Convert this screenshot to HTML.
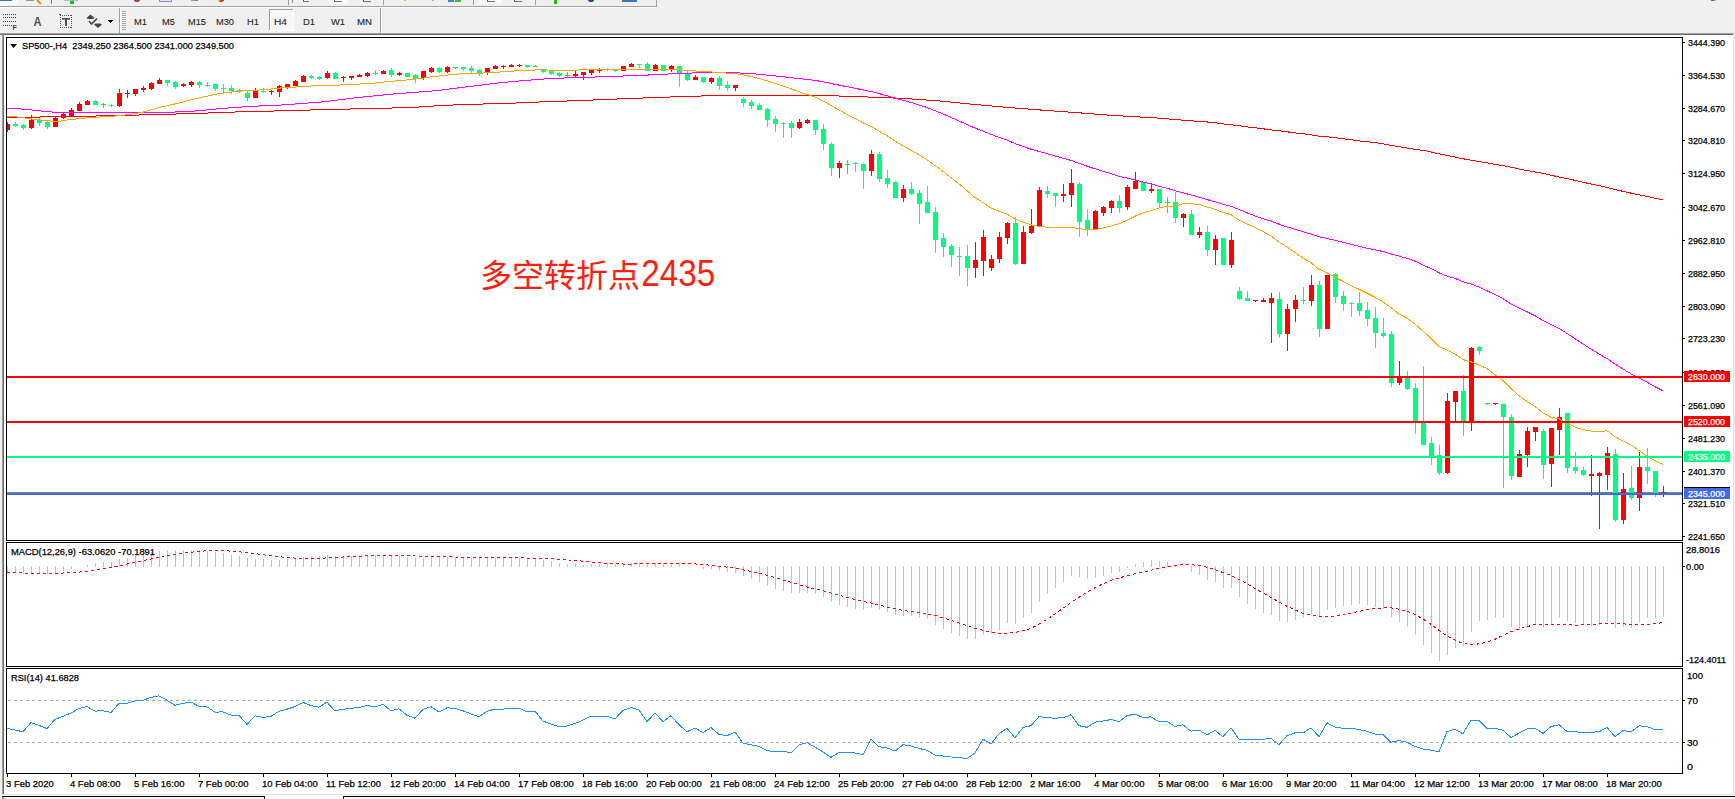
<!DOCTYPE html>
<html><head><meta charset="utf-8"><title>SP500 H4</title>
<style>html,body{margin:0;padding:0;background:#f0f0f0;}body{width:1735px;height:799px;overflow:hidden;}svg{display:block;}</style>
</head><body>
<svg width="1735" height="799" viewBox="0 0 1735 799" shape-rendering="crispEdges" font-family="Liberation Sans, Arial, sans-serif">
<rect x="0" y="0" width="1735" height="799" fill="#f0f0f0"/>
<rect x="0" y="0" width="18" height="5" fill="#fbfbfb"/>
<rect x="0" y="0" width="12" height="1" fill="#3a72c4"/>
<path d="M37 0 L41 4" stroke="#c89b1c" stroke-width="2" fill="none" shape-rendering="auto"/>
<path d="M26 0 L34 0" stroke="#9a9a9a" stroke-width="1" fill="none"/>
<rect x="51" y="0" width="1" height="4" fill="#808080"/>
<rect x="70" y="0" width="4" height="4" fill="#11c211"/>
<rect x="64" y="0" width="14" height="1" fill="#b8b8b8"/>
<circle cx="137" cy="-1" r="3" fill="#a0522d"/>
<rect x="159" y="0" width="13" height="2" fill="#7f8fcf"/>
<rect x="160" y="0" width="11" height="1" fill="#dfe5f5"/>
<rect x="191" y="0" width="4" height="1" fill="#6aa0e0"/>
<rect x="195" y="0" width="3" height="1" fill="#2fb12f"/>
<circle cx="221" cy="-1" r="3" fill="#e03a2a"/>
<rect x="218" y="0" width="2" height="1" fill="#f0c020"/>
<rect x="288" y="0" width="1" height="5" fill="#a0a0a0"/>
<rect x="292" y="0" width="1" height="3" fill="#909090"/>
<rect x="303" y="0" width="1" height="2" fill="#505050"/>
<rect x="303" y="1" width="6" height="1" fill="#707070"/>
<rect x="329" y="0" width="19" height="4" fill="#fafafa"/>
<rect x="334" y="0" width="1" height="2" fill="#505050"/>
<rect x="334" y="1" width="8" height="1" fill="#707070"/>
<rect x="363" y="0" width="1" height="2" fill="#505050"/>
<rect x="363" y="1" width="8" height="1" fill="#707070"/>
<rect x="383" y="0" width="1" height="5" fill="#a0a0a0"/>
<circle cx="405" cy="-1" r="2" fill="#e8a800"/>
<circle cx="433" cy="-1" r="2" fill="#e8a800"/>
<rect x="448" y="0" width="6" height="2" fill="#4a7fd8"/>
<rect x="455" y="0" width="6" height="2" fill="#3cb83c"/>
<rect x="473" y="0" width="1" height="5" fill="#a0a0a0"/>
<rect x="478" y="0" width="24" height="4" fill="#fafafa"/>
<rect x="487" y="0" width="1" height="2" fill="#505050"/>
<rect x="487" y="1" width="8" height="1" fill="#707070"/>
<rect x="514" y="0" width="1" height="2" fill="#505050"/>
<rect x="514" y="1" width="8" height="1" fill="#707070"/>
<rect x="535" y="0" width="1" height="5" fill="#a0a0a0"/>
<rect x="554" y="0" width="3" height="4" fill="#11c211"/>
<circle cx="591" cy="-2" r="4" fill="#1f4fa0"/>
<rect x="622" y="0" width="15" height="2" fill="#3a72c4"/>
<rect x="656" y="0" width="1" height="6" fill="#a0a0a0"/>
<rect x="1711" y="0" width="3" height="1" fill="#6a6a6a"/>
<rect x="1714" y="0" width="2" height="1" fill="#b0b0b0"/>
<rect x="0" y="6" width="657" height="1" fill="#a0a0a0"/>
<rect x="0" y="7" width="657" height="1" fill="#ffffff"/>
<rect x="3" y="14" width="1" height="1" fill="#404040"/>
<rect x="5" y="14" width="1" height="1" fill="#404040"/>
<rect x="7" y="14" width="1" height="1" fill="#404040"/>
<rect x="9" y="14" width="1" height="1" fill="#404040"/>
<rect x="11" y="14" width="1" height="1" fill="#404040"/>
<rect x="13" y="14" width="1" height="1" fill="#404040"/>
<rect x="15" y="14" width="1" height="1" fill="#404040"/>
<rect x="3" y="17" width="1" height="1" fill="#404040"/>
<rect x="5" y="17" width="1" height="1" fill="#404040"/>
<rect x="7" y="17" width="1" height="1" fill="#404040"/>
<rect x="9" y="17" width="1" height="1" fill="#404040"/>
<rect x="11" y="17" width="1" height="1" fill="#404040"/>
<rect x="13" y="17" width="1" height="1" fill="#404040"/>
<rect x="15" y="17" width="1" height="1" fill="#404040"/>
<rect x="3" y="21" width="1" height="1" fill="#404040"/>
<rect x="5" y="21" width="1" height="1" fill="#404040"/>
<rect x="7" y="21" width="1" height="1" fill="#404040"/>
<rect x="9" y="21" width="1" height="1" fill="#404040"/>
<rect x="11" y="21" width="1" height="1" fill="#404040"/>
<rect x="13" y="21" width="1" height="1" fill="#404040"/>
<rect x="15" y="21" width="1" height="1" fill="#404040"/>
<rect x="3" y="25" width="1" height="1" fill="#404040"/>
<rect x="5" y="25" width="1" height="1" fill="#404040"/>
<rect x="7" y="25" width="1" height="1" fill="#404040"/>
<rect x="9" y="25" width="1" height="1" fill="#404040"/>
<rect x="11" y="25" width="1" height="1" fill="#404040"/>
<text x="12.6" y="30" font-size="7" fill="#404040" stroke="#404040" stroke-width="0" textLength="4.3" lengthAdjust="spacingAndGlyphs" font-weight="bold">F</text>
<text x="33.5" y="26" font-size="12" fill="#505050" stroke="#505050" stroke-width="0" textLength="8.0" lengthAdjust="spacingAndGlyphs" font-weight="bold">A</text>
<rect x="60" y="15" width="1" height="1" fill="#505050"/>
<rect x="60" y="27" width="1" height="1" fill="#505050"/>
<rect x="62" y="15" width="1" height="1" fill="#505050"/>
<rect x="62" y="27" width="1" height="1" fill="#505050"/>
<rect x="64" y="15" width="1" height="1" fill="#505050"/>
<rect x="64" y="27" width="1" height="1" fill="#505050"/>
<rect x="66" y="15" width="1" height="1" fill="#505050"/>
<rect x="66" y="27" width="1" height="1" fill="#505050"/>
<rect x="68" y="15" width="1" height="1" fill="#505050"/>
<rect x="68" y="27" width="1" height="1" fill="#505050"/>
<rect x="70" y="15" width="1" height="1" fill="#505050"/>
<rect x="70" y="27" width="1" height="1" fill="#505050"/>
<rect x="60" y="15" width="1" height="1" fill="#505050"/>
<rect x="71" y="15" width="1" height="1" fill="#505050"/>
<rect x="60" y="17" width="1" height="1" fill="#505050"/>
<rect x="71" y="17" width="1" height="1" fill="#505050"/>
<rect x="60" y="19" width="1" height="1" fill="#505050"/>
<rect x="71" y="19" width="1" height="1" fill="#505050"/>
<rect x="60" y="21" width="1" height="1" fill="#505050"/>
<rect x="71" y="21" width="1" height="1" fill="#505050"/>
<rect x="60" y="23" width="1" height="1" fill="#505050"/>
<rect x="71" y="23" width="1" height="1" fill="#505050"/>
<rect x="60" y="25" width="1" height="1" fill="#505050"/>
<rect x="71" y="25" width="1" height="1" fill="#505050"/>
<rect x="60" y="27" width="1" height="1" fill="#505050"/>
<rect x="71" y="27" width="1" height="1" fill="#505050"/>
<rect x="59" y="14" width="2" height="1" fill="#505050"/>
<rect x="62" y="18" width="8" height="1" fill="#505050"/>
<rect x="62" y="19" width="8" height="1" fill="#8a8a8a"/>
<rect x="65" y="18" width="2" height="8" fill="#505050"/>
<path d="M90.5 14.5 L94.5 18 L93 19 L88 19 L86.5 18 Z M98 28 L102 24.5 L100.5 23.5 L95.5 23.5 L94 24.5 Z" fill="#444" shape-rendering="auto"/>
<path d="M89 21 L91.5 24 L97 18.5" stroke="#444" stroke-width="1.6" fill="none" shape-rendering="auto"/>
<path d="M107 20 L113 20 L110 23 Z" fill="#000"/>
<rect x="119" y="8" width="1" height="25" fill="#a0a0a0"/>
<rect x="120" y="8" width="1" height="25" fill="#ffffff"/>
<rect x="122" y="11" width="4" height="1" fill="#a8a8a8"/>
<rect x="122" y="13" width="4" height="1" fill="#a8a8a8"/>
<rect x="122" y="15" width="4" height="1" fill="#a8a8a8"/>
<rect x="122" y="17" width="4" height="1" fill="#a8a8a8"/>
<rect x="122" y="19" width="4" height="1" fill="#a8a8a8"/>
<rect x="122" y="21" width="4" height="1" fill="#a8a8a8"/>
<rect x="122" y="23" width="4" height="1" fill="#a8a8a8"/>
<rect x="122" y="25" width="4" height="1" fill="#a8a8a8"/>
<rect x="122" y="27" width="4" height="1" fill="#a8a8a8"/>
<rect x="122" y="29" width="4" height="1" fill="#a8a8a8"/>
<rect x="269" y="9" width="25" height="22" fill="#f7f7f7"/>
<rect x="269" y="9" width="25" height="1" fill="#a0a0a0"/>
<rect x="269" y="9" width="1" height="22" fill="#a0a0a0"/>
<rect x="269" y="30" width="25" height="1" fill="#ffffff"/>
<rect x="293" y="9" width="1" height="22" fill="#ffffff"/>
<text x="134.0" y="25" font-size="9.4" fill="#222" stroke="#222" stroke-width="0.1" textLength="13.0" lengthAdjust="spacingAndGlyphs">M1</text>
<text x="162.0" y="25" font-size="9.4" fill="#222" stroke="#222" stroke-width="0.1" textLength="13.0" lengthAdjust="spacingAndGlyphs">M5</text>
<text x="188.0" y="25" font-size="9.4" fill="#222" stroke="#222" stroke-width="0.1" textLength="18.0" lengthAdjust="spacingAndGlyphs">M15</text>
<text x="216.0" y="25" font-size="9.4" fill="#222" stroke="#222" stroke-width="0.1" textLength="18.0" lengthAdjust="spacingAndGlyphs">M30</text>
<text x="247.0" y="25" font-size="9.4" fill="#222" stroke="#222" stroke-width="0.1" textLength="12.0" lengthAdjust="spacingAndGlyphs">H1</text>
<text x="274.0" y="25" font-size="9.4" fill="#222" stroke="#222" stroke-width="0.1" textLength="13.0" lengthAdjust="spacingAndGlyphs">H4</text>
<text x="303.0" y="25" font-size="9.4" fill="#222" stroke="#222" stroke-width="0.1" textLength="12.0" lengthAdjust="spacingAndGlyphs">D1</text>
<text x="331.0" y="25" font-size="9.4" fill="#222" stroke="#222" stroke-width="0.1" textLength="14.0" lengthAdjust="spacingAndGlyphs">W1</text>
<text x="357.0" y="25" font-size="9.4" fill="#222" stroke="#222" stroke-width="0.1" textLength="15.0" lengthAdjust="spacingAndGlyphs">MN</text>
<rect x="380" y="8" width="1" height="25" fill="#a0a0a0"/>
<rect x="381" y="8" width="1" height="25" fill="#ffffff"/>
<rect x="0" y="33" width="1734" height="1" fill="#a0a0a0"/>
<rect x="0" y="34" width="1734" height="1" fill="#696969"/>
<rect x="2" y="33" width="1" height="762" fill="#a0a0a0"/>
<rect x="3" y="34" width="1" height="760" fill="#696969"/>
<rect x="4" y="35" width="1729" height="759" fill="#ffffff"/>
<rect x="1733" y="34" width="1" height="761" fill="#e3e3e3"/>
<rect x="2" y="794" width="1732" height="1" fill="#e3e3e3"/>
<rect x="0" y="795" width="1735" height="4" fill="#ffffff"/>
<rect x="2" y="796" width="263" height="1" fill="#000000"/>
<rect x="264" y="796" width="1" height="3" fill="#000000"/>
<rect x="343" y="796" width="1392" height="1" fill="#000000"/>
<rect x="343" y="796" width="1" height="3" fill="#000000"/>
<rect x="2" y="797" width="2" height="2" fill="#a0a0a0"/>
<rect x="5" y="798" width="259" height="1" fill="#f0f0f0"/>
<rect x="345" y="798" width="1390" height="1" fill="#f0f0f0"/>
<rect x="6" y="37" width="1677" height="1" fill="#000"/>
<rect x="6" y="540" width="1677" height="1" fill="#000"/>
<rect x="6" y="37" width="1" height="504" fill="#000"/>
<rect x="1682" y="37" width="1" height="504" fill="#000"/>
<rect x="6" y="542" width="1677" height="1" fill="#000"/>
<rect x="6" y="666" width="1677" height="1" fill="#000"/>
<rect x="6" y="542" width="1" height="125" fill="#000"/>
<rect x="1682" y="542" width="1" height="125" fill="#000"/>
<rect x="6" y="668" width="1677" height="1" fill="#000"/>
<rect x="6" y="773" width="1677" height="1" fill="#000"/>
<rect x="6" y="668" width="1" height="106" fill="#000"/>
<rect x="1682" y="668" width="1" height="106" fill="#000"/>
<defs><clipPath id="cm"><rect x="7" y="38" width="1675" height="502"/></clipPath><clipPath id="cd"><rect x="7" y="543" width="1675" height="123"/></clipPath><clipPath id="cr"><rect x="7" y="669" width="1675" height="104"/></clipPath></defs>
<rect x="7" y="492" width="1675" height="1" fill="#7c8690"/>
<g clip-path="url(#cm)">
<rect x="7" y="122" width="1" height="10" fill="#ff0000"/>
<rect x="5" y="124" width="5" height="6" fill="#ff0000"/>
<rect x="15" y="122" width="1" height="5" fill="#00ff7f"/>
<rect x="13" y="124" width="5" height="2" fill="#00ff7f"/>
<rect x="23" y="124" width="1" height="6" fill="#00ff7f"/>
<rect x="21" y="125" width="5" height="3" fill="#00ff7f"/>
<rect x="31" y="115" width="1" height="14" fill="#ff0000"/>
<rect x="29" y="120" width="5" height="8" fill="#ff0000"/>
<rect x="39" y="118" width="1" height="8" fill="#00ff7f"/>
<rect x="37" y="120" width="5" height="3" fill="#00ff7f"/>
<rect x="47" y="121" width="1" height="8" fill="#00ff7f"/>
<rect x="45" y="122" width="5" height="5" fill="#00ff7f"/>
<rect x="55" y="116" width="1" height="11" fill="#ff0000"/>
<rect x="53" y="118" width="5" height="9" fill="#ff0000"/>
<rect x="63" y="113" width="1" height="6" fill="#ff0000"/>
<rect x="61" y="114" width="5" height="4" fill="#ff0000"/>
<rect x="71" y="108" width="1" height="8" fill="#ff0000"/>
<rect x="69" y="110" width="5" height="6" fill="#ff0000"/>
<rect x="79" y="102" width="1" height="9" fill="#ff0000"/>
<rect x="77" y="104" width="5" height="7" fill="#ff0000"/>
<rect x="87" y="100" width="1" height="5" fill="#ff0000"/>
<rect x="85" y="101" width="5" height="4" fill="#ff0000"/>
<rect x="95" y="100" width="1" height="5" fill="#00ff7f"/>
<rect x="93" y="101" width="5" height="4" fill="#00ff7f"/>
<rect x="103" y="103" width="1" height="5" fill="#00ff00"/>
<rect x="101" y="104" width="5" height="1" fill="#00ff00"/>
<rect x="111" y="104" width="1" height="3" fill="#00ff7f"/>
<rect x="109" y="105" width="5" height="1" fill="#00ff7f"/>
<rect x="119" y="89" width="1" height="18" fill="#ff0000"/>
<rect x="117" y="93" width="5" height="13" fill="#ff0000"/>
<rect x="127" y="90" width="1" height="8" fill="#ff0000"/>
<rect x="125" y="93" width="5" height="1" fill="#ff0000"/>
<rect x="135" y="89" width="1" height="7" fill="#ff0000"/>
<rect x="133" y="89" width="5" height="5" fill="#ff0000"/>
<rect x="143" y="86" width="1" height="6" fill="#ff0000"/>
<rect x="141" y="88" width="5" height="2" fill="#ff0000"/>
<rect x="151" y="82" width="1" height="8" fill="#ff0000"/>
<rect x="149" y="83" width="5" height="6" fill="#ff0000"/>
<rect x="159" y="78" width="1" height="6" fill="#ff0000"/>
<rect x="157" y="80" width="5" height="4" fill="#ff0000"/>
<rect x="167" y="80" width="1" height="6" fill="#00ff7f"/>
<rect x="165" y="80" width="5" height="3" fill="#00ff7f"/>
<rect x="175" y="81" width="1" height="8" fill="#00ff7f"/>
<rect x="173" y="82" width="5" height="5" fill="#00ff7f"/>
<rect x="183" y="83" width="1" height="4" fill="#ff0000"/>
<rect x="181" y="84" width="5" height="2" fill="#ff0000"/>
<rect x="191" y="81" width="1" height="6" fill="#ff0000"/>
<rect x="189" y="82" width="5" height="3" fill="#ff0000"/>
<rect x="199" y="81" width="1" height="7" fill="#00ff7f"/>
<rect x="197" y="82" width="5" height="3" fill="#00ff7f"/>
<rect x="207" y="82" width="1" height="5" fill="#00ff7f"/>
<rect x="205" y="85" width="5" height="1" fill="#00ff7f"/>
<rect x="215" y="84" width="1" height="7" fill="#00ff7f"/>
<rect x="213" y="84" width="5" height="5" fill="#00ff7f"/>
<rect x="223" y="84" width="1" height="9" fill="#00ff7f"/>
<rect x="221" y="88" width="5" height="1" fill="#00ff7f"/>
<rect x="231" y="85" width="1" height="9" fill="#00ff7f"/>
<rect x="229" y="88" width="5" height="3" fill="#00ff7f"/>
<rect x="239" y="89" width="1" height="4" fill="#00ff7f"/>
<rect x="237" y="90" width="5" height="1" fill="#00ff7f"/>
<rect x="247" y="91" width="1" height="10" fill="#00ff7f"/>
<rect x="245" y="93" width="5" height="5" fill="#00ff7f"/>
<rect x="255" y="88" width="1" height="10" fill="#ff0000"/>
<rect x="253" y="91" width="5" height="7" fill="#ff0000"/>
<rect x="263" y="88" width="1" height="5" fill="#00ff7f"/>
<rect x="261" y="91" width="5" height="1" fill="#00ff7f"/>
<rect x="271" y="90" width="1" height="5" fill="#ff0000"/>
<rect x="269" y="91" width="5" height="1" fill="#ff0000"/>
<rect x="279" y="85" width="1" height="12" fill="#ff0000"/>
<rect x="277" y="86" width="5" height="6" fill="#ff0000"/>
<rect x="287" y="84" width="1" height="5" fill="#ff0000"/>
<rect x="285" y="84" width="5" height="3" fill="#ff0000"/>
<rect x="295" y="80" width="1" height="6" fill="#ff0000"/>
<rect x="293" y="81" width="5" height="5" fill="#ff0000"/>
<rect x="303" y="75" width="1" height="7" fill="#ff0000"/>
<rect x="301" y="76" width="5" height="6" fill="#ff0000"/>
<rect x="311" y="75" width="1" height="4" fill="#00ff7f"/>
<rect x="309" y="76" width="5" height="2" fill="#00ff7f"/>
<rect x="319" y="76" width="1" height="4" fill="#00ff7f"/>
<rect x="317" y="77" width="5" height="2" fill="#00ff7f"/>
<rect x="327" y="71" width="1" height="8" fill="#ff0000"/>
<rect x="325" y="73" width="5" height="5" fill="#ff0000"/>
<rect x="335" y="72" width="1" height="7" fill="#00ff7f"/>
<rect x="333" y="73" width="5" height="6" fill="#00ff7f"/>
<rect x="343" y="76" width="1" height="6" fill="#ff0000"/>
<rect x="341" y="77" width="5" height="1" fill="#ff0000"/>
<rect x="351" y="76" width="1" height="4" fill="#ff0000"/>
<rect x="349" y="76" width="5" height="2" fill="#ff0000"/>
<rect x="359" y="74" width="1" height="3" fill="#ff0000"/>
<rect x="357" y="75" width="5" height="2" fill="#ff0000"/>
<rect x="367" y="72" width="1" height="5" fill="#ff0000"/>
<rect x="365" y="73" width="5" height="3" fill="#ff0000"/>
<rect x="375" y="70" width="1" height="5" fill="#00ff7f"/>
<rect x="373" y="73" width="5" height="1" fill="#00ff7f"/>
<rect x="383" y="70" width="1" height="4" fill="#ff0000"/>
<rect x="381" y="71" width="5" height="3" fill="#ff0000"/>
<rect x="391" y="68" width="1" height="9" fill="#00ff7f"/>
<rect x="389" y="70" width="5" height="5" fill="#00ff7f"/>
<rect x="399" y="72" width="1" height="4" fill="#ff0000"/>
<rect x="397" y="73" width="5" height="2" fill="#ff0000"/>
<rect x="407" y="73" width="1" height="4" fill="#00ff7f"/>
<rect x="405" y="73" width="5" height="4" fill="#00ff7f"/>
<rect x="415" y="74" width="1" height="9" fill="#00ff7f"/>
<rect x="413" y="75" width="5" height="4" fill="#00ff7f"/>
<rect x="423" y="71" width="1" height="9" fill="#ff0000"/>
<rect x="421" y="71" width="5" height="7" fill="#ff0000"/>
<rect x="431" y="67" width="1" height="6" fill="#ff0000"/>
<rect x="429" y="68" width="5" height="4" fill="#ff0000"/>
<rect x="439" y="67" width="1" height="6" fill="#00ff7f"/>
<rect x="437" y="68" width="5" height="4" fill="#00ff7f"/>
<rect x="447" y="66" width="1" height="7" fill="#ff0000"/>
<rect x="445" y="67" width="5" height="5" fill="#ff0000"/>
<rect x="455" y="67" width="1" height="2" fill="#00ff00"/>
<rect x="453" y="67" width="5" height="1" fill="#00ff00"/>
<rect x="463" y="67" width="1" height="4" fill="#00ff7f"/>
<rect x="461" y="67" width="5" height="2" fill="#00ff7f"/>
<rect x="471" y="66" width="1" height="7" fill="#00ff7f"/>
<rect x="469" y="68" width="5" height="3" fill="#00ff7f"/>
<rect x="479" y="69" width="1" height="7" fill="#00ff7f"/>
<rect x="477" y="70" width="5" height="3" fill="#00ff7f"/>
<rect x="487" y="68" width="1" height="7" fill="#ff0000"/>
<rect x="485" y="68" width="5" height="4" fill="#ff0000"/>
<rect x="495" y="65" width="1" height="4" fill="#ff0000"/>
<rect x="493" y="66" width="5" height="3" fill="#ff0000"/>
<rect x="503" y="65" width="1" height="4" fill="#ff0000"/>
<rect x="501" y="66" width="5" height="1" fill="#ff0000"/>
<rect x="511" y="64" width="1" height="3" fill="#ff0000"/>
<rect x="509" y="65" width="5" height="2" fill="#ff0000"/>
<rect x="519" y="64" width="1" height="3" fill="#ff0000"/>
<rect x="517" y="65" width="5" height="1" fill="#ff0000"/>
<rect x="527" y="65" width="1" height="3" fill="#00ff7f"/>
<rect x="525" y="65" width="5" height="2" fill="#00ff7f"/>
<rect x="535" y="65" width="1" height="2" fill="#00ff00"/>
<rect x="533" y="66" width="5" height="1" fill="#00ff00"/>
<rect x="543" y="70" width="1" height="3" fill="#00ff7f"/>
<rect x="541" y="70" width="5" height="2" fill="#00ff7f"/>
<rect x="551" y="70" width="1" height="5" fill="#00ff7f"/>
<rect x="549" y="70" width="5" height="4" fill="#00ff7f"/>
<rect x="559" y="72" width="1" height="5" fill="#00ff7f"/>
<rect x="557" y="73" width="5" height="3" fill="#00ff7f"/>
<rect x="567" y="72" width="1" height="5" fill="#00ff00"/>
<rect x="565" y="75" width="5" height="1" fill="#00ff00"/>
<rect x="575" y="71" width="1" height="6" fill="#ff0000"/>
<rect x="573" y="74" width="5" height="2" fill="#ff0000"/>
<rect x="583" y="72" width="1" height="8" fill="#ff0000"/>
<rect x="581" y="72" width="5" height="3" fill="#ff0000"/>
<rect x="591" y="69" width="1" height="6" fill="#ff0000"/>
<rect x="589" y="70" width="5" height="3" fill="#ff0000"/>
<rect x="599" y="68" width="1" height="5" fill="#ff0000"/>
<rect x="597" y="70" width="5" height="1" fill="#ff0000"/>
<rect x="607" y="68" width="1" height="3" fill="#00ff7f"/>
<rect x="605" y="69" width="5" height="1" fill="#00ff7f"/>
<rect x="615" y="69" width="1" height="3" fill="#00ff7f"/>
<rect x="613" y="69" width="5" height="2" fill="#00ff7f"/>
<rect x="623" y="66" width="1" height="5" fill="#ff0000"/>
<rect x="621" y="66" width="5" height="5" fill="#ff0000"/>
<rect x="631" y="63" width="1" height="4" fill="#ff0000"/>
<rect x="629" y="64" width="5" height="3" fill="#ff0000"/>
<rect x="639" y="64" width="1" height="4" fill="#00ff7f"/>
<rect x="637" y="64" width="5" height="1" fill="#00ff7f"/>
<rect x="647" y="62" width="1" height="9" fill="#00ff7f"/>
<rect x="645" y="64" width="5" height="7" fill="#00ff7f"/>
<rect x="655" y="64" width="1" height="7" fill="#ff0000"/>
<rect x="653" y="65" width="5" height="6" fill="#ff0000"/>
<rect x="663" y="65" width="1" height="6" fill="#00ff7f"/>
<rect x="661" y="65" width="5" height="6" fill="#00ff7f"/>
<rect x="671" y="65" width="1" height="7" fill="#ff0000"/>
<rect x="669" y="66" width="5" height="3" fill="#ff0000"/>
<rect x="679" y="66" width="1" height="21" fill="#00ff7f"/>
<rect x="677" y="66" width="5" height="7" fill="#00ff7f"/>
<rect x="687" y="71" width="1" height="10" fill="#00ff7f"/>
<rect x="685" y="74" width="5" height="6" fill="#00ff7f"/>
<rect x="695" y="75" width="1" height="5" fill="#ff0000"/>
<rect x="693" y="77" width="5" height="3" fill="#ff0000"/>
<rect x="703" y="77" width="1" height="6" fill="#00ff7f"/>
<rect x="701" y="77" width="5" height="5" fill="#00ff7f"/>
<rect x="711" y="77" width="1" height="7" fill="#ff0000"/>
<rect x="709" y="78" width="5" height="4" fill="#ff0000"/>
<rect x="719" y="76" width="1" height="14" fill="#00ff7f"/>
<rect x="717" y="78" width="5" height="8" fill="#00ff7f"/>
<rect x="727" y="81" width="1" height="10" fill="#00ff7f"/>
<rect x="725" y="85" width="5" height="3" fill="#00ff7f"/>
<rect x="735" y="85" width="1" height="6" fill="#ff0000"/>
<rect x="733" y="85" width="5" height="3" fill="#ff0000"/>
<rect x="743" y="97" width="1" height="10" fill="#00ff7f"/>
<rect x="741" y="99" width="5" height="4" fill="#00ff7f"/>
<rect x="751" y="100" width="1" height="9" fill="#00ff7f"/>
<rect x="749" y="102" width="5" height="4" fill="#00ff7f"/>
<rect x="759" y="103" width="1" height="7" fill="#00ff7f"/>
<rect x="757" y="105" width="5" height="5" fill="#00ff7f"/>
<rect x="767" y="108" width="1" height="19" fill="#00ff7f"/>
<rect x="765" y="109" width="5" height="11" fill="#00ff7f"/>
<rect x="775" y="116" width="1" height="16" fill="#00ff7f"/>
<rect x="773" y="119" width="5" height="5" fill="#00ff7f"/>
<rect x="783" y="122" width="1" height="16" fill="#00ff7f"/>
<rect x="781" y="123" width="5" height="1" fill="#00ff7f"/>
<rect x="791" y="121" width="1" height="17" fill="#00ff7f"/>
<rect x="789" y="123" width="5" height="5" fill="#00ff7f"/>
<rect x="799" y="119" width="1" height="10" fill="#ff0000"/>
<rect x="797" y="122" width="5" height="6" fill="#ff0000"/>
<rect x="807" y="119" width="1" height="5" fill="#ff0000"/>
<rect x="805" y="120" width="5" height="3" fill="#ff0000"/>
<rect x="815" y="120" width="1" height="15" fill="#00ff7f"/>
<rect x="813" y="120" width="5" height="10" fill="#00ff7f"/>
<rect x="823" y="124" width="1" height="26" fill="#00ff7f"/>
<rect x="821" y="129" width="5" height="15" fill="#00ff7f"/>
<rect x="831" y="142" width="1" height="34" fill="#00ff7f"/>
<rect x="829" y="144" width="5" height="24" fill="#00ff7f"/>
<rect x="839" y="161" width="1" height="17" fill="#ff0000"/>
<rect x="837" y="163" width="5" height="5" fill="#ff0000"/>
<rect x="847" y="160" width="1" height="14" fill="#00ff00"/>
<rect x="845" y="164" width="5" height="1" fill="#00ff00"/>
<rect x="855" y="162" width="1" height="10" fill="#00ff7f"/>
<rect x="853" y="163" width="5" height="1" fill="#00ff7f"/>
<rect x="863" y="163" width="1" height="26" fill="#00ff7f"/>
<rect x="861" y="164" width="5" height="7" fill="#00ff7f"/>
<rect x="871" y="150" width="1" height="26" fill="#ff0000"/>
<rect x="869" y="154" width="5" height="17" fill="#ff0000"/>
<rect x="879" y="152" width="1" height="30" fill="#00ff7f"/>
<rect x="877" y="154" width="5" height="25" fill="#00ff7f"/>
<rect x="887" y="170" width="1" height="18" fill="#00ff7f"/>
<rect x="885" y="178" width="5" height="6" fill="#00ff7f"/>
<rect x="895" y="181" width="1" height="17" fill="#00ff7f"/>
<rect x="893" y="182" width="5" height="16" fill="#00ff7f"/>
<rect x="903" y="185" width="1" height="17" fill="#ff0000"/>
<rect x="901" y="189" width="5" height="9" fill="#ff0000"/>
<rect x="911" y="182" width="1" height="13" fill="#00ff7f"/>
<rect x="909" y="189" width="5" height="5" fill="#00ff7f"/>
<rect x="919" y="190" width="1" height="34" fill="#00ff7f"/>
<rect x="917" y="193" width="5" height="11" fill="#00ff7f"/>
<rect x="927" y="186" width="1" height="27" fill="#00ff7f"/>
<rect x="925" y="202" width="5" height="11" fill="#00ff7f"/>
<rect x="935" y="207" width="1" height="46" fill="#00ff7f"/>
<rect x="933" y="212" width="5" height="28" fill="#00ff7f"/>
<rect x="943" y="233" width="1" height="24" fill="#00ff7f"/>
<rect x="941" y="238" width="5" height="9" fill="#00ff7f"/>
<rect x="951" y="244" width="1" height="23" fill="#00ff7f"/>
<rect x="949" y="246" width="5" height="9" fill="#00ff7f"/>
<rect x="959" y="247" width="1" height="29" fill="#00ff7f"/>
<rect x="957" y="256" width="5" height="1" fill="#00ff7f"/>
<rect x="967" y="245" width="1" height="41" fill="#00ff7f"/>
<rect x="965" y="256" width="5" height="12" fill="#00ff7f"/>
<rect x="975" y="242" width="1" height="36" fill="#ff0000"/>
<rect x="973" y="260" width="5" height="8" fill="#ff0000"/>
<rect x="983" y="230" width="1" height="46" fill="#ff0000"/>
<rect x="981" y="237" width="5" height="24" fill="#ff0000"/>
<rect x="991" y="255" width="1" height="16" fill="#ff0000"/>
<rect x="989" y="259" width="5" height="9" fill="#ff0000"/>
<rect x="999" y="232" width="1" height="31" fill="#ff0000"/>
<rect x="997" y="237" width="5" height="22" fill="#ff0000"/>
<rect x="1007" y="222" width="1" height="22" fill="#ff0000"/>
<rect x="1005" y="223" width="5" height="15" fill="#ff0000"/>
<rect x="1015" y="217" width="1" height="48" fill="#00ff7f"/>
<rect x="1013" y="223" width="5" height="41" fill="#00ff7f"/>
<rect x="1023" y="226" width="1" height="38" fill="#ff0000"/>
<rect x="1021" y="232" width="5" height="32" fill="#ff0000"/>
<rect x="1031" y="209" width="1" height="25" fill="#ff0000"/>
<rect x="1029" y="226" width="5" height="7" fill="#ff0000"/>
<rect x="1039" y="187" width="1" height="40" fill="#ff0000"/>
<rect x="1037" y="190" width="5" height="36" fill="#ff0000"/>
<rect x="1047" y="186" width="1" height="12" fill="#00ff7f"/>
<rect x="1045" y="191" width="5" height="3" fill="#00ff7f"/>
<rect x="1055" y="193" width="1" height="14" fill="#00ff7f"/>
<rect x="1053" y="193" width="5" height="3" fill="#00ff7f"/>
<rect x="1063" y="184" width="1" height="18" fill="#ff0000"/>
<rect x="1061" y="194" width="5" height="2" fill="#ff0000"/>
<rect x="1071" y="169" width="1" height="38" fill="#ff0000"/>
<rect x="1069" y="183" width="5" height="12" fill="#ff0000"/>
<rect x="1079" y="182" width="1" height="55" fill="#00ff7f"/>
<rect x="1077" y="184" width="5" height="38" fill="#00ff7f"/>
<rect x="1087" y="209" width="1" height="27" fill="#00ff7f"/>
<rect x="1085" y="220" width="5" height="9" fill="#00ff7f"/>
<rect x="1095" y="210" width="1" height="19" fill="#ff0000"/>
<rect x="1093" y="211" width="5" height="18" fill="#ff0000"/>
<rect x="1103" y="206" width="1" height="10" fill="#ff0000"/>
<rect x="1101" y="207" width="5" height="6" fill="#ff0000"/>
<rect x="1111" y="200" width="1" height="13" fill="#ff0000"/>
<rect x="1109" y="201" width="5" height="7" fill="#ff0000"/>
<rect x="1119" y="195" width="1" height="18" fill="#00ff7f"/>
<rect x="1117" y="201" width="5" height="7" fill="#00ff7f"/>
<rect x="1127" y="185" width="1" height="25" fill="#ff0000"/>
<rect x="1125" y="187" width="5" height="20" fill="#ff0000"/>
<rect x="1135" y="172" width="1" height="17" fill="#ff0000"/>
<rect x="1133" y="181" width="5" height="8" fill="#ff0000"/>
<rect x="1143" y="182" width="1" height="9" fill="#00ff7f"/>
<rect x="1141" y="182" width="5" height="9" fill="#00ff7f"/>
<rect x="1151" y="183" width="1" height="10" fill="#ff0000"/>
<rect x="1149" y="189" width="5" height="2" fill="#ff0000"/>
<rect x="1159" y="189" width="1" height="18" fill="#00ff7f"/>
<rect x="1157" y="189" width="5" height="14" fill="#00ff7f"/>
<rect x="1167" y="197" width="1" height="16" fill="#00ff00"/>
<rect x="1165" y="202" width="5" height="1" fill="#00ff00"/>
<rect x="1175" y="192" width="1" height="31" fill="#00ff7f"/>
<rect x="1173" y="202" width="5" height="16" fill="#00ff7f"/>
<rect x="1183" y="213" width="1" height="14" fill="#ff0000"/>
<rect x="1181" y="214" width="5" height="4" fill="#ff0000"/>
<rect x="1191" y="210" width="1" height="25" fill="#00ff7f"/>
<rect x="1189" y="214" width="5" height="21" fill="#00ff7f"/>
<rect x="1199" y="227" width="1" height="11" fill="#ff0000"/>
<rect x="1197" y="232" width="5" height="3" fill="#ff0000"/>
<rect x="1207" y="226" width="1" height="30" fill="#00ff7f"/>
<rect x="1205" y="232" width="5" height="18" fill="#00ff7f"/>
<rect x="1215" y="235" width="1" height="30" fill="#ff0000"/>
<rect x="1213" y="239" width="5" height="11" fill="#ff0000"/>
<rect x="1223" y="238" width="1" height="27" fill="#00ff7f"/>
<rect x="1221" y="238" width="5" height="27" fill="#00ff7f"/>
<rect x="1231" y="232" width="1" height="36" fill="#ff0000"/>
<rect x="1229" y="240" width="5" height="25" fill="#ff0000"/>
<rect x="1239" y="287" width="1" height="13" fill="#00ff7f"/>
<rect x="1237" y="291" width="5" height="8" fill="#00ff7f"/>
<rect x="1247" y="291" width="1" height="10" fill="#00ff7f"/>
<rect x="1245" y="298" width="5" height="3" fill="#00ff7f"/>
<rect x="1255" y="300" width="1" height="2" fill="#ff0000"/>
<rect x="1253" y="300" width="5" height="1" fill="#ff0000"/>
<rect x="1263" y="298" width="1" height="4" fill="#ff0000"/>
<rect x="1261" y="300" width="5" height="2" fill="#ff0000"/>
<rect x="1271" y="293" width="1" height="50" fill="#ff0000"/>
<rect x="1269" y="298" width="5" height="5" fill="#ff0000"/>
<rect x="1279" y="292" width="1" height="46" fill="#00ff7f"/>
<rect x="1277" y="299" width="5" height="35" fill="#00ff7f"/>
<rect x="1287" y="304" width="1" height="47" fill="#ff0000"/>
<rect x="1285" y="309" width="5" height="25" fill="#ff0000"/>
<rect x="1295" y="295" width="1" height="27" fill="#ff0000"/>
<rect x="1293" y="300" width="5" height="9" fill="#ff0000"/>
<rect x="1303" y="287" width="1" height="17" fill="#00ff7f"/>
<rect x="1301" y="300" width="5" height="1" fill="#00ff7f"/>
<rect x="1311" y="275" width="1" height="31" fill="#ff0000"/>
<rect x="1309" y="285" width="5" height="16" fill="#ff0000"/>
<rect x="1319" y="281" width="1" height="56" fill="#00ff7f"/>
<rect x="1317" y="285" width="5" height="44" fill="#00ff7f"/>
<rect x="1327" y="275" width="1" height="54" fill="#ff0000"/>
<rect x="1325" y="275" width="5" height="54" fill="#ff0000"/>
<rect x="1335" y="273" width="1" height="30" fill="#00ff7f"/>
<rect x="1333" y="274" width="5" height="23" fill="#00ff7f"/>
<rect x="1343" y="291" width="1" height="20" fill="#00ff7f"/>
<rect x="1341" y="296" width="5" height="8" fill="#00ff7f"/>
<rect x="1351" y="302" width="1" height="15" fill="#00ff7f"/>
<rect x="1349" y="303" width="5" height="1" fill="#00ff7f"/>
<rect x="1359" y="292" width="1" height="24" fill="#00ff7f"/>
<rect x="1357" y="303" width="5" height="8" fill="#00ff7f"/>
<rect x="1367" y="302" width="1" height="24" fill="#00ff7f"/>
<rect x="1365" y="310" width="5" height="9" fill="#00ff7f"/>
<rect x="1375" y="307" width="1" height="41" fill="#00ff7f"/>
<rect x="1373" y="318" width="5" height="15" fill="#00ff7f"/>
<rect x="1383" y="318" width="1" height="20" fill="#00ff7f"/>
<rect x="1381" y="333" width="5" height="3" fill="#00ff7f"/>
<rect x="1391" y="331" width="1" height="56" fill="#00ff7f"/>
<rect x="1389" y="334" width="5" height="49" fill="#00ff7f"/>
<rect x="1399" y="361" width="1" height="24" fill="#ff0000"/>
<rect x="1397" y="378" width="5" height="5" fill="#ff0000"/>
<rect x="1407" y="371" width="1" height="19" fill="#00ff7f"/>
<rect x="1405" y="378" width="5" height="11" fill="#00ff7f"/>
<rect x="1415" y="383" width="1" height="51" fill="#00ff7f"/>
<rect x="1413" y="388" width="5" height="33" fill="#00ff7f"/>
<rect x="1423" y="366" width="1" height="79" fill="#00ff7f"/>
<rect x="1421" y="421" width="5" height="24" fill="#00ff7f"/>
<rect x="1431" y="437" width="1" height="28" fill="#00ff7f"/>
<rect x="1429" y="443" width="5" height="13" fill="#00ff7f"/>
<rect x="1439" y="445" width="1" height="30" fill="#00ff7f"/>
<rect x="1437" y="455" width="5" height="18" fill="#00ff7f"/>
<rect x="1447" y="393" width="1" height="81" fill="#ff0000"/>
<rect x="1445" y="401" width="5" height="72" fill="#ff0000"/>
<rect x="1455" y="391" width="1" height="30" fill="#ff0000"/>
<rect x="1453" y="391" width="5" height="11" fill="#ff0000"/>
<rect x="1463" y="375" width="1" height="61" fill="#00ff7f"/>
<rect x="1461" y="391" width="5" height="30" fill="#00ff7f"/>
<rect x="1471" y="347" width="1" height="84" fill="#ff0000"/>
<rect x="1469" y="348" width="5" height="74" fill="#ff0000"/>
<rect x="1479" y="346" width="1" height="9" fill="#00ff7f"/>
<rect x="1477" y="347" width="5" height="4" fill="#00ff7f"/>
<rect x="1487" y="403" width="1" height="2" fill="#00ff00"/>
<rect x="1485" y="403" width="5" height="1" fill="#00ff00"/>
<rect x="1495" y="403" width="1" height="2" fill="#ff0000"/>
<rect x="1493" y="403" width="5" height="1" fill="#ff0000"/>
<rect x="1503" y="404" width="1" height="84" fill="#00ff7f"/>
<rect x="1501" y="404" width="5" height="13" fill="#00ff7f"/>
<rect x="1511" y="414" width="1" height="66" fill="#00ff7f"/>
<rect x="1509" y="417" width="5" height="59" fill="#00ff7f"/>
<rect x="1519" y="450" width="1" height="27" fill="#ff0000"/>
<rect x="1517" y="454" width="5" height="23" fill="#ff0000"/>
<rect x="1527" y="427" width="1" height="40" fill="#ff0000"/>
<rect x="1525" y="431" width="5" height="24" fill="#ff0000"/>
<rect x="1535" y="427" width="1" height="14" fill="#ff0000"/>
<rect x="1533" y="427" width="5" height="5" fill="#ff0000"/>
<rect x="1543" y="429" width="1" height="50" fill="#00ff7f"/>
<rect x="1541" y="431" width="5" height="34" fill="#00ff7f"/>
<rect x="1551" y="428" width="1" height="59" fill="#ff0000"/>
<rect x="1549" y="428" width="5" height="36" fill="#ff0000"/>
<rect x="1559" y="408" width="1" height="47" fill="#ff0000"/>
<rect x="1557" y="417" width="5" height="13" fill="#ff0000"/>
<rect x="1567" y="413" width="1" height="60" fill="#00ff7f"/>
<rect x="1565" y="413" width="5" height="55" fill="#00ff7f"/>
<rect x="1575" y="452" width="1" height="22" fill="#00ff7f"/>
<rect x="1573" y="467" width="5" height="4" fill="#00ff7f"/>
<rect x="1583" y="467" width="1" height="9" fill="#00ff7f"/>
<rect x="1581" y="470" width="5" height="5" fill="#00ff7f"/>
<rect x="1591" y="455" width="1" height="41" fill="#ff0000"/>
<rect x="1589" y="474" width="5" height="2" fill="#ff0000"/>
<rect x="1599" y="472" width="1" height="57" fill="#ff0000"/>
<rect x="1597" y="473" width="5" height="3" fill="#ff0000"/>
<rect x="1607" y="447" width="1" height="43" fill="#ff0000"/>
<rect x="1605" y="453" width="5" height="22" fill="#ff0000"/>
<rect x="1615" y="449" width="1" height="73" fill="#00ff7f"/>
<rect x="1613" y="454" width="5" height="66" fill="#00ff7f"/>
<rect x="1623" y="473" width="1" height="51" fill="#ff0000"/>
<rect x="1621" y="489" width="5" height="31" fill="#ff0000"/>
<rect x="1631" y="466" width="1" height="34" fill="#00ff7f"/>
<rect x="1629" y="488" width="5" height="10" fill="#00ff7f"/>
<rect x="1639" y="452" width="1" height="59" fill="#ff0000"/>
<rect x="1637" y="467" width="5" height="31" fill="#ff0000"/>
<rect x="1647" y="448" width="1" height="36" fill="#00ff7f"/>
<rect x="1645" y="467" width="5" height="4" fill="#00ff7f"/>
<rect x="1655" y="471" width="1" height="26" fill="#00ff7f"/>
<rect x="1653" y="471" width="5" height="22" fill="#00ff7f"/>
<rect x="1663" y="486" width="1" height="11" fill="#ff0000"/>
<rect x="1661" y="492" width="5" height="1" fill="#ff0000"/>
</g>
<g clip-path="url(#cm)">
<polyline points="6.9,117.7 34.6,117.1 83.0,116.3 122.8,115.4 155.6,114.6 186.8,113.7 208.0,113.0 219.6,112.4 259.4,111.4 290.0,110.6 322.9,109.6 355.0,108.9 386.8,108.2 419.0,107.0 442.2,105.5 467.0,104.4 490.6,103.8 523.0,102.8 545.9,101.7 579.0,100.6 602.5,99.6 626.7,98.6 659.5,97.4 683.8,96.5 714.9,95.6 752.9,95.3 827.3,95.6 860.1,96.7 870.0,97.1 904.6,98.5 939.2,100.9 973.8,104.4 1008.3,107.5 1042.9,110.2 1077.5,112.7 1112.1,115.4 1146.7,117.4 1160.0,118.2 1172.0,119.3 1187.7,120.5 1196.0,121.2 1211.7,122.3 1220.0,123.5 1228.2,124.5 1236.4,125.3 1243.9,126.5 1252.2,127.5 1260.4,128.4 1267.9,129.5 1276.1,130.5 1284.4,131.4 1291.9,132.5 1300.1,133.5 1308.4,134.4 1318.1,136.0 1332.3,137.3 1339.8,138.2 1348.1,139.4 1356.3,140.4 1363.8,141.5 1372.0,142.2 1380.3,143.4 1389.3,145.0 1396.8,146.3 1404.3,147.5 1413.3,149.0 1420.0,150.0 1426.0,150.8 1438.0,153.6 1450.0,156.0 1460.5,158.3 1477.0,161.2 1484.4,162.4 1495.0,164.4 1510.0,166.9 1519.0,169.0 1530.9,171.2 1545.9,174.0 1557.9,176.8 1569.9,179.2 1581.8,181.9 1590.8,184.0 1602.8,186.4 1619.3,190.5 1631.3,193.2 1641.8,195.3 1653.8,197.9 1663.0,200.0" fill="none" stroke="#ff0000" stroke-width="1"/>
<polyline points="6.9,108.2 20.7,109.0 36.3,110.4 45.0,111.6 60.5,112.5 100.3,113.0 138.3,112.8 173.0,112.1 198.9,110.8 219.6,108.6 250.7,106.4 285.3,104.8 324.6,101.7 359.2,97.4 393.8,93.9 428.3,91.3 439.0,90.4 447.0,89.3 455.0,88.3 463.0,87.2 471.0,86.3 479.0,85.4 487.0,84.3 495.0,83.4 503.0,82.5 511.0,81.7 519.0,81.0 527.0,80.4 535.0,79.7 543.0,79.1 551.0,78.5 559.0,78.2 567.0,77.9 575.0,77.6 583.0,77.3 591.0,77.1 599.0,76.9 607.0,76.6 615.0,76.3 623.0,76.0 631.0,75.7 639.0,75.3 647.0,75.1 655.0,74.6 663.0,74.3 671.0,73.8 679.0,73.5 687.0,73.2 695.0,72.9 703.0,72.8 711.0,72.5 719.0,72.5 727.0,72.6 735.0,72.7 743.0,73.2 751.0,73.7 759.0,74.2 767.0,75.1 775.0,75.9 783.0,76.8 791.0,77.7 799.0,78.6 807.0,79.4 815.0,80.4 823.0,81.8 831.0,83.5 839.0,85.1 847.0,86.7 855.0,88.2 863.0,90.0 871.0,91.6 879.0,93.6 887.0,95.7 895.0,98.1 903.0,100.2 911.0,102.5 919.0,104.9 927.0,107.5 935.0,110.7 943.0,113.9 951.0,117.4 959.0,120.9 967.0,124.5 975.0,128.1 983.0,131.1 991.0,134.4 999.0,137.3 1007.0,140.0 1015.0,143.5 1023.0,146.4 1031.0,149.2 1039.0,151.4 1047.0,153.7 1055.0,155.9 1063.0,158.3 1071.0,160.4 1079.0,163.3 1087.0,166.2 1095.0,168.8 1103.0,171.3 1111.0,173.7 1119.0,176.2 1127.0,178.1 1135.0,180.0 1143.0,182.0 1151.0,184.0 1159.0,186.2 1167.0,188.2 1175.0,190.7 1183.0,192.7 1191.0,195.0 1199.0,197.2 1207.0,199.6 1215.0,201.7 1223.0,204.3 1231.0,206.3 1239.0,209.5 1247.0,212.8 1255.0,215.9 1263.0,218.7 1271.0,221.1 1279.0,224.2 1287.0,226.9 1295.0,229.3 1303.0,231.7 1311.0,234.1 1319.0,236.8 1327.0,238.5 1335.0,240.3 1343.0,242.3 1351.0,244.3 1359.0,246.3 1367.0,248.2 1375.0,249.9 1383.0,251.5 1391.0,253.9 1399.0,256.1 1407.0,258.3 1415.0,261.2 1423.0,265.0 1431.0,268.5 1439.0,272.8 1447.0,276.1 1455.0,278.4 1463.0,281.8 1471.0,284.0 1479.0,287.0 1487.0,290.8 1495.0,294.5 1503.0,298.6 1511.0,303.9 1519.0,308.1 1527.0,311.8 1535.0,315.7 1543.0,320.4 1551.0,324.6 1559.0,328.4 1567.0,333.5 1575.0,338.7 1583.0,343.9 1591.0,349.1 1599.0,354.0 1607.0,358.5 1615.0,364.0 1623.0,369.0 1631.0,373.8 1639.0,378.1 1647.0,382.1 1655.0,386.7 1663.0,390.8" fill="none" stroke="#ff00ff" stroke-width="1"/>
<polyline points="6.9,116.3 20.7,117.3 34.6,119.4 48.4,120.8 57.0,121.6 69.2,119.7 83.0,118.2 98.6,117.1 121.0,115.6 141.8,112.5 159.0,107.5 167.0,105.7 175.0,103.9 183.0,101.9 191.0,99.7 199.0,98.0 207.0,96.2 215.0,94.4 223.0,93.1 231.0,92.0 239.0,91.1 247.0,90.8 255.0,90.3 263.0,89.7 271.0,89.0 279.0,88.1 287.0,87.6 295.0,87.1 303.0,86.5 311.0,86.0 319.0,85.8 327.0,85.5 335.0,85.3 343.0,84.8 351.0,84.4 359.0,84.1 367.0,83.5 375.0,83.0 383.0,82.1 391.0,81.4 399.0,80.6 407.0,79.9 415.0,79.0 423.0,78.1 431.0,76.9 439.0,76.0 447.0,75.1 455.0,74.3 463.0,73.7 471.0,73.5 479.0,73.3 487.0,72.7 495.0,72.4 503.0,71.8 511.0,71.2 519.0,70.7 527.0,70.3 535.0,70.0 543.0,69.9 551.0,70.1 559.0,70.1 567.0,70.2 575.0,70.1 583.0,69.8 591.0,69.7 599.0,69.8 607.0,69.7 615.0,69.9 623.0,69.8 631.0,69.6 639.0,69.3 647.0,69.2 655.0,69.1 663.0,69.3 671.0,69.3 679.0,69.7 687.0,70.4 695.0,70.9 703.0,71.6 711.0,71.9 719.0,72.5 727.0,73.1 735.0,73.5 743.0,74.9 751.0,76.5 759.0,78.4 767.0,80.8 775.0,83.4 783.0,85.9 791.0,88.8 799.0,91.6 807.0,94.2 815.0,97.0 823.0,100.8 831.0,105.4 839.0,110.0 847.0,114.4 855.0,118.4 863.0,122.8 871.0,126.3 879.0,131.1 887.0,135.7 895.0,141.0 903.0,145.9 911.0,150.3 919.0,154.9 927.0,159.8 935.0,165.5 943.0,171.4 951.0,177.7 959.0,183.8 967.0,190.7 975.0,197.4 983.0,202.5 991.0,208.0 999.0,211.2 1007.0,214.1 1015.0,218.9 1023.0,222.1 1031.0,224.7 1039.0,226.4 1047.0,227.2 1055.0,227.7 1063.0,227.5 1071.0,227.3 1079.0,228.6 1087.0,229.8 1095.0,229.7 1103.0,228.1 1111.0,225.9 1119.0,223.7 1127.0,220.4 1135.0,216.2 1143.0,213.0 1151.0,210.7 1159.0,208.0 1167.0,206.4 1175.0,206.1 1183.0,203.7 1191.0,203.9 1199.0,204.2 1207.0,207.0 1215.0,209.2 1223.0,212.5 1231.0,214.7 1239.0,220.2 1247.0,223.9 1255.0,227.3 1263.0,231.6 1271.0,235.9 1279.0,242.2 1287.0,247.0 1295.0,252.4 1303.0,258.1 1311.0,262.6 1319.0,269.3 1327.0,272.7 1335.0,277.2 1343.0,281.3 1351.0,285.6 1359.0,289.2 1367.0,293.3 1375.0,297.3 1383.0,301.9 1391.0,307.5 1399.0,314.1 1407.0,318.3 1415.0,324.1 1423.0,331.0 1431.0,338.4 1439.0,346.7 1447.0,349.9 1455.0,353.8 1463.0,359.6 1471.0,361.8 1479.0,365.0 1487.0,368.5 1495.0,374.6 1503.0,380.3 1511.0,388.5 1519.0,395.7 1527.0,401.4 1535.0,406.5 1543.0,412.8 1551.0,417.2 1559.0,418.8 1567.0,423.1 1575.0,427.0 1583.0,429.6 1591.0,431.0 1599.0,431.8 1607.0,430.8 1615.0,436.5 1623.0,441.2 1631.0,444.8 1639.0,450.5 1647.0,456.2 1655.0,460.5 1663.0,464.7" fill="none" stroke="#ffa500" stroke-width="1"/>
</g>
<rect x="7" y="376" width="1675" height="2" fill="#ff0000"/>
<rect x="7" y="421" width="1675" height="2" fill="#ff0000"/>
<rect x="7" y="456" width="1675" height="2" fill="#00ff7f"/>
<rect x="7" y="493" width="1675" height="2" fill="#4169e1"/>
<path d="M10 44 L17 44 L13.5 48 Z" fill="#000" shape-rendering="auto"/>
<text x="22.0" y="49" font-size="9.4" fill="#000" stroke="#000" stroke-width="0.25" textLength="212.0" lengthAdjust="spacingAndGlyphs">SP500-,H4&#160;&#160;2349.250 2364.500 2341.000 2349.500</text>
<text x="480" y="286.5" font-size="32" fill="#ff1e0e" font-family="Liberation Sans, Noto Sans CJK SC, sans-serif">多空转折点</text>
<text x="641.3" y="286" font-size="36" fill="#ff1e0e" textLength="74" lengthAdjust="spacingAndGlyphs" font-family="Liberation Sans, Noto Sans CJK SC, sans-serif">2435</text>
<rect x="1683" y="42" width="2" height="1" fill="#000"/>
<text x="1688.0" y="46" font-size="9.4" fill="#000" stroke="#000" stroke-width="0.25" textLength="37.0" lengthAdjust="spacingAndGlyphs">3444.390</text>
<rect x="1683" y="75" width="2" height="1" fill="#000"/>
<text x="1688.0" y="79" font-size="9.4" fill="#000" stroke="#000" stroke-width="0.25" textLength="37.0" lengthAdjust="spacingAndGlyphs">3364.530</text>
<rect x="1683" y="108" width="2" height="1" fill="#000"/>
<text x="1688.0" y="112" font-size="9.4" fill="#000" stroke="#000" stroke-width="0.25" textLength="37.0" lengthAdjust="spacingAndGlyphs">3284.670</text>
<rect x="1683" y="140" width="2" height="1" fill="#000"/>
<text x="1688.0" y="144" font-size="9.4" fill="#000" stroke="#000" stroke-width="0.25" textLength="37.0" lengthAdjust="spacingAndGlyphs">3204.810</text>
<rect x="1683" y="173" width="2" height="1" fill="#000"/>
<text x="1688.0" y="177" font-size="9.4" fill="#000" stroke="#000" stroke-width="0.25" textLength="37.0" lengthAdjust="spacingAndGlyphs">3124.950</text>
<rect x="1683" y="207" width="2" height="1" fill="#000"/>
<text x="1688.0" y="211" font-size="9.4" fill="#000" stroke="#000" stroke-width="0.25" textLength="37.0" lengthAdjust="spacingAndGlyphs">3042.670</text>
<rect x="1683" y="240" width="2" height="1" fill="#000"/>
<text x="1688.0" y="244" font-size="9.4" fill="#000" stroke="#000" stroke-width="0.25" textLength="37.0" lengthAdjust="spacingAndGlyphs">2962.810</text>
<rect x="1683" y="273" width="2" height="1" fill="#000"/>
<text x="1688.0" y="277" font-size="9.4" fill="#000" stroke="#000" stroke-width="0.25" textLength="37.0" lengthAdjust="spacingAndGlyphs">2882.950</text>
<rect x="1683" y="306" width="2" height="1" fill="#000"/>
<text x="1688.0" y="310" font-size="9.4" fill="#000" stroke="#000" stroke-width="0.25" textLength="37.0" lengthAdjust="spacingAndGlyphs">2803.090</text>
<rect x="1683" y="338" width="2" height="1" fill="#000"/>
<text x="1688.0" y="342" font-size="9.4" fill="#000" stroke="#000" stroke-width="0.25" textLength="37.0" lengthAdjust="spacingAndGlyphs">2723.230</text>
<rect x="1683" y="372" width="2" height="1" fill="#000"/>
<text x="1688.0" y="376" font-size="9.4" fill="#000" stroke="#000" stroke-width="0.25" textLength="37.0" lengthAdjust="spacingAndGlyphs">2640.950</text>
<rect x="1683" y="405" width="2" height="1" fill="#000"/>
<text x="1688.0" y="409" font-size="9.4" fill="#000" stroke="#000" stroke-width="0.25" textLength="37.0" lengthAdjust="spacingAndGlyphs">2561.090</text>
<rect x="1683" y="438" width="2" height="1" fill="#000"/>
<text x="1688.0" y="442" font-size="9.4" fill="#000" stroke="#000" stroke-width="0.25" textLength="37.0" lengthAdjust="spacingAndGlyphs">2481.230</text>
<rect x="1683" y="471" width="2" height="1" fill="#000"/>
<text x="1688.0" y="475" font-size="9.4" fill="#000" stroke="#000" stroke-width="0.25" textLength="37.0" lengthAdjust="spacingAndGlyphs">2401.370</text>
<rect x="1683" y="503" width="2" height="1" fill="#000"/>
<text x="1688.0" y="507" font-size="9.4" fill="#000" stroke="#000" stroke-width="0.25" textLength="37.0" lengthAdjust="spacingAndGlyphs">2321.510</text>
<rect x="1683" y="536" width="2" height="1" fill="#000"/>
<text x="1688.0" y="540" font-size="9.4" fill="#000" stroke="#000" stroke-width="0.25" textLength="37.0" lengthAdjust="spacingAndGlyphs">2241.650</text>
<rect x="1684" y="371" width="46" height="11" fill="#ff0000"/>
<text x="1688.0" y="380" font-size="9.4" fill="#fff" stroke="#fff" stroke-width="0.25" textLength="37.0" lengthAdjust="spacingAndGlyphs">2630.000</text>
<rect x="1684" y="416" width="46" height="11" fill="#ff0000"/>
<text x="1688.0" y="425" font-size="9.4" fill="#fff" stroke="#fff" stroke-width="0.25" textLength="37.0" lengthAdjust="spacingAndGlyphs">2520.000</text>
<rect x="1684" y="451" width="46" height="11" fill="#00ff7f"/>
<text x="1688.0" y="460" font-size="9.4" fill="#fff" stroke="#fff" stroke-width="0.25" textLength="37.0" lengthAdjust="spacingAndGlyphs">2435.000</text>
<rect x="1684" y="487" width="46" height="1" fill="#000"/>
<rect x="1684" y="488" width="46" height="11" fill="#4169e1"/>
<text x="1688.0" y="497" font-size="9.4" fill="#fff" stroke="#fff" stroke-width="0.25" textLength="37.0" lengthAdjust="spacingAndGlyphs">2345.000</text>
<g clip-path="url(#cd)">
<rect x="7" y="566" width="1" height="6" fill="#c0c0c0"/>
<rect x="15" y="566" width="1" height="7" fill="#c0c0c0"/>
<rect x="23" y="566" width="1" height="8" fill="#c0c0c0"/>
<rect x="31" y="566" width="1" height="8" fill="#c0c0c0"/>
<rect x="39" y="566" width="1" height="8" fill="#c0c0c0"/>
<rect x="47" y="566" width="1" height="8" fill="#c0c0c0"/>
<rect x="55" y="566" width="1" height="7" fill="#c0c0c0"/>
<rect x="63" y="566" width="1" height="5" fill="#c0c0c0"/>
<rect x="71" y="566" width="1" height="3" fill="#c0c0c0"/>
<rect x="87" y="565" width="1" height="2" fill="#c0c0c0"/>
<rect x="95" y="563" width="1" height="4" fill="#c0c0c0"/>
<rect x="103" y="562" width="1" height="5" fill="#c0c0c0"/>
<rect x="111" y="562" width="1" height="5" fill="#c0c0c0"/>
<rect x="119" y="559" width="1" height="8" fill="#c0c0c0"/>
<rect x="127" y="558" width="1" height="9" fill="#c0c0c0"/>
<rect x="135" y="556" width="1" height="11" fill="#c0c0c0"/>
<rect x="143" y="554" width="1" height="13" fill="#c0c0c0"/>
<rect x="151" y="552" width="1" height="15" fill="#c0c0c0"/>
<rect x="159" y="551" width="1" height="16" fill="#c0c0c0"/>
<rect x="167" y="550" width="1" height="17" fill="#c0c0c0"/>
<rect x="175" y="550" width="1" height="17" fill="#c0c0c0"/>
<rect x="183" y="550" width="1" height="17" fill="#c0c0c0"/>
<rect x="191" y="550" width="1" height="17" fill="#c0c0c0"/>
<rect x="199" y="550" width="1" height="17" fill="#c0c0c0"/>
<rect x="207" y="551" width="1" height="16" fill="#c0c0c0"/>
<rect x="215" y="552" width="1" height="15" fill="#c0c0c0"/>
<rect x="223" y="553" width="1" height="14" fill="#c0c0c0"/>
<rect x="231" y="555" width="1" height="12" fill="#c0c0c0"/>
<rect x="239" y="556" width="1" height="11" fill="#c0c0c0"/>
<rect x="247" y="558" width="1" height="9" fill="#c0c0c0"/>
<rect x="255" y="559" width="1" height="8" fill="#c0c0c0"/>
<rect x="263" y="559" width="1" height="8" fill="#c0c0c0"/>
<rect x="271" y="560" width="1" height="7" fill="#c0c0c0"/>
<rect x="279" y="560" width="1" height="7" fill="#c0c0c0"/>
<rect x="287" y="559" width="1" height="8" fill="#c0c0c0"/>
<rect x="295" y="558" width="1" height="9" fill="#c0c0c0"/>
<rect x="303" y="557" width="1" height="10" fill="#c0c0c0"/>
<rect x="311" y="556" width="1" height="11" fill="#c0c0c0"/>
<rect x="319" y="556" width="1" height="11" fill="#c0c0c0"/>
<rect x="327" y="555" width="1" height="12" fill="#c0c0c0"/>
<rect x="335" y="556" width="1" height="11" fill="#c0c0c0"/>
<rect x="343" y="556" width="1" height="11" fill="#c0c0c0"/>
<rect x="351" y="556" width="1" height="11" fill="#c0c0c0"/>
<rect x="359" y="556" width="1" height="11" fill="#c0c0c0"/>
<rect x="367" y="555" width="1" height="12" fill="#c0c0c0"/>
<rect x="375" y="555" width="1" height="12" fill="#c0c0c0"/>
<rect x="383" y="555" width="1" height="12" fill="#c0c0c0"/>
<rect x="391" y="556" width="1" height="11" fill="#c0c0c0"/>
<rect x="399" y="556" width="1" height="11" fill="#c0c0c0"/>
<rect x="407" y="557" width="1" height="10" fill="#c0c0c0"/>
<rect x="415" y="558" width="1" height="9" fill="#c0c0c0"/>
<rect x="423" y="558" width="1" height="9" fill="#c0c0c0"/>
<rect x="431" y="557" width="1" height="10" fill="#c0c0c0"/>
<rect x="439" y="557" width="1" height="10" fill="#c0c0c0"/>
<rect x="447" y="557" width="1" height="10" fill="#c0c0c0"/>
<rect x="455" y="557" width="1" height="10" fill="#c0c0c0"/>
<rect x="463" y="557" width="1" height="10" fill="#c0c0c0"/>
<rect x="471" y="558" width="1" height="9" fill="#c0c0c0"/>
<rect x="479" y="558" width="1" height="9" fill="#c0c0c0"/>
<rect x="487" y="558" width="1" height="9" fill="#c0c0c0"/>
<rect x="495" y="558" width="1" height="9" fill="#c0c0c0"/>
<rect x="503" y="558" width="1" height="9" fill="#c0c0c0"/>
<rect x="511" y="558" width="1" height="9" fill="#c0c0c0"/>
<rect x="519" y="558" width="1" height="9" fill="#c0c0c0"/>
<rect x="527" y="558" width="1" height="9" fill="#c0c0c0"/>
<rect x="535" y="559" width="1" height="8" fill="#c0c0c0"/>
<rect x="543" y="560" width="1" height="7" fill="#c0c0c0"/>
<rect x="551" y="561" width="1" height="6" fill="#c0c0c0"/>
<rect x="559" y="563" width="1" height="4" fill="#c0c0c0"/>
<rect x="567" y="564" width="1" height="3" fill="#c0c0c0"/>
<rect x="575" y="564" width="1" height="3" fill="#c0c0c0"/>
<rect x="583" y="565" width="1" height="2" fill="#c0c0c0"/>
<rect x="591" y="564" width="1" height="3" fill="#c0c0c0"/>
<rect x="599" y="564" width="1" height="3" fill="#c0c0c0"/>
<rect x="607" y="564" width="1" height="3" fill="#c0c0c0"/>
<rect x="615" y="564" width="1" height="3" fill="#c0c0c0"/>
<rect x="623" y="564" width="1" height="3" fill="#c0c0c0"/>
<rect x="631" y="563" width="1" height="4" fill="#c0c0c0"/>
<rect x="639" y="563" width="1" height="4" fill="#c0c0c0"/>
<rect x="647" y="563" width="1" height="4" fill="#c0c0c0"/>
<rect x="655" y="563" width="1" height="4" fill="#c0c0c0"/>
<rect x="663" y="563" width="1" height="4" fill="#c0c0c0"/>
<rect x="671" y="563" width="1" height="4" fill="#c0c0c0"/>
<rect x="679" y="564" width="1" height="3" fill="#c0c0c0"/>
<rect x="703" y="566" width="1" height="3" fill="#c0c0c0"/>
<rect x="711" y="566" width="1" height="3" fill="#c0c0c0"/>
<rect x="719" y="566" width="1" height="5" fill="#c0c0c0"/>
<rect x="727" y="566" width="1" height="6" fill="#c0c0c0"/>
<rect x="735" y="566" width="1" height="7" fill="#c0c0c0"/>
<rect x="743" y="566" width="1" height="10" fill="#c0c0c0"/>
<rect x="751" y="566" width="1" height="13" fill="#c0c0c0"/>
<rect x="759" y="566" width="1" height="16" fill="#c0c0c0"/>
<rect x="767" y="566" width="1" height="20" fill="#c0c0c0"/>
<rect x="775" y="566" width="1" height="23" fill="#c0c0c0"/>
<rect x="783" y="566" width="1" height="25" fill="#c0c0c0"/>
<rect x="791" y="566" width="1" height="27" fill="#c0c0c0"/>
<rect x="799" y="566" width="1" height="27" fill="#c0c0c0"/>
<rect x="807" y="566" width="1" height="27" fill="#c0c0c0"/>
<rect x="815" y="566" width="1" height="28" fill="#c0c0c0"/>
<rect x="823" y="566" width="1" height="31" fill="#c0c0c0"/>
<rect x="831" y="566" width="1" height="36" fill="#c0c0c0"/>
<rect x="839" y="566" width="1" height="39" fill="#c0c0c0"/>
<rect x="847" y="566" width="1" height="41" fill="#c0c0c0"/>
<rect x="855" y="566" width="1" height="43" fill="#c0c0c0"/>
<rect x="863" y="566" width="1" height="44" fill="#c0c0c0"/>
<rect x="871" y="566" width="1" height="42" fill="#c0c0c0"/>
<rect x="879" y="566" width="1" height="44" fill="#c0c0c0"/>
<rect x="887" y="566" width="1" height="46" fill="#c0c0c0"/>
<rect x="895" y="566" width="1" height="49" fill="#c0c0c0"/>
<rect x="903" y="566" width="1" height="50" fill="#c0c0c0"/>
<rect x="911" y="566" width="1" height="50" fill="#c0c0c0"/>
<rect x="919" y="566" width="1" height="52" fill="#c0c0c0"/>
<rect x="927" y="566" width="1" height="53" fill="#c0c0c0"/>
<rect x="935" y="566" width="1" height="59" fill="#c0c0c0"/>
<rect x="943" y="566" width="1" height="63" fill="#c0c0c0"/>
<rect x="951" y="566" width="1" height="67" fill="#c0c0c0"/>
<rect x="959" y="566" width="1" height="70" fill="#c0c0c0"/>
<rect x="967" y="566" width="1" height="73" fill="#c0c0c0"/>
<rect x="975" y="566" width="1" height="73" fill="#c0c0c0"/>
<rect x="983" y="566" width="1" height="69" fill="#c0c0c0"/>
<rect x="991" y="566" width="1" height="68" fill="#c0c0c0"/>
<rect x="999" y="566" width="1" height="64" fill="#c0c0c0"/>
<rect x="1007" y="566" width="1" height="57" fill="#c0c0c0"/>
<rect x="1015" y="566" width="1" height="58" fill="#c0c0c0"/>
<rect x="1023" y="566" width="1" height="52" fill="#c0c0c0"/>
<rect x="1031" y="566" width="1" height="47" fill="#c0c0c0"/>
<rect x="1039" y="566" width="1" height="36" fill="#c0c0c0"/>
<rect x="1047" y="566" width="1" height="28" fill="#c0c0c0"/>
<rect x="1055" y="566" width="1" height="22" fill="#c0c0c0"/>
<rect x="1063" y="566" width="1" height="16" fill="#c0c0c0"/>
<rect x="1071" y="566" width="1" height="10" fill="#c0c0c0"/>
<rect x="1079" y="566" width="1" height="11" fill="#c0c0c0"/>
<rect x="1087" y="566" width="1" height="13" fill="#c0c0c0"/>
<rect x="1095" y="566" width="1" height="12" fill="#c0c0c0"/>
<rect x="1103" y="566" width="1" height="10" fill="#c0c0c0"/>
<rect x="1111" y="566" width="1" height="7" fill="#c0c0c0"/>
<rect x="1119" y="566" width="1" height="6" fill="#c0c0c0"/>
<rect x="1127" y="566" width="1" height="2" fill="#c0c0c0"/>
<rect x="1135" y="564" width="1" height="3" fill="#c0c0c0"/>
<rect x="1143" y="562" width="1" height="5" fill="#c0c0c0"/>
<rect x="1151" y="560" width="1" height="7" fill="#c0c0c0"/>
<rect x="1159" y="561" width="1" height="6" fill="#c0c0c0"/>
<rect x="1167" y="562" width="1" height="5" fill="#c0c0c0"/>
<rect x="1175" y="565" width="1" height="2" fill="#c0c0c0"/>
<rect x="1191" y="566" width="1" height="6" fill="#c0c0c0"/>
<rect x="1199" y="566" width="1" height="9" fill="#c0c0c0"/>
<rect x="1207" y="566" width="1" height="14" fill="#c0c0c0"/>
<rect x="1215" y="566" width="1" height="16" fill="#c0c0c0"/>
<rect x="1223" y="566" width="1" height="22" fill="#c0c0c0"/>
<rect x="1231" y="566" width="1" height="22" fill="#c0c0c0"/>
<rect x="1239" y="566" width="1" height="31" fill="#c0c0c0"/>
<rect x="1247" y="566" width="1" height="38" fill="#c0c0c0"/>
<rect x="1255" y="566" width="1" height="43" fill="#c0c0c0"/>
<rect x="1263" y="566" width="1" height="47" fill="#c0c0c0"/>
<rect x="1271" y="566" width="1" height="49" fill="#c0c0c0"/>
<rect x="1279" y="566" width="1" height="55" fill="#c0c0c0"/>
<rect x="1287" y="566" width="1" height="56" fill="#c0c0c0"/>
<rect x="1295" y="566" width="1" height="54" fill="#c0c0c0"/>
<rect x="1303" y="566" width="1" height="52" fill="#c0c0c0"/>
<rect x="1311" y="566" width="1" height="48" fill="#c0c0c0"/>
<rect x="1319" y="566" width="1" height="51" fill="#c0c0c0"/>
<rect x="1327" y="566" width="1" height="44" fill="#c0c0c0"/>
<rect x="1335" y="566" width="1" height="42" fill="#c0c0c0"/>
<rect x="1343" y="566" width="1" height="40" fill="#c0c0c0"/>
<rect x="1351" y="566" width="1" height="39" fill="#c0c0c0"/>
<rect x="1359" y="566" width="1" height="38" fill="#c0c0c0"/>
<rect x="1367" y="566" width="1" height="39" fill="#c0c0c0"/>
<rect x="1375" y="566" width="1" height="41" fill="#c0c0c0"/>
<rect x="1383" y="566" width="1" height="43" fill="#c0c0c0"/>
<rect x="1391" y="566" width="1" height="51" fill="#c0c0c0"/>
<rect x="1399" y="566" width="1" height="56" fill="#c0c0c0"/>
<rect x="1407" y="566" width="1" height="61" fill="#c0c0c0"/>
<rect x="1415" y="566" width="1" height="69" fill="#c0c0c0"/>
<rect x="1423" y="566" width="1" height="79" fill="#c0c0c0"/>
<rect x="1431" y="566" width="1" height="87" fill="#c0c0c0"/>
<rect x="1439" y="566" width="1" height="95" fill="#c0c0c0"/>
<rect x="1447" y="566" width="1" height="89" fill="#c0c0c0"/>
<rect x="1455" y="566" width="1" height="82" fill="#c0c0c0"/>
<rect x="1463" y="566" width="1" height="80" fill="#c0c0c0"/>
<rect x="1471" y="566" width="1" height="66" fill="#c0c0c0"/>
<rect x="1479" y="566" width="1" height="55" fill="#c0c0c0"/>
<rect x="1487" y="566" width="1" height="54" fill="#c0c0c0"/>
<rect x="1495" y="566" width="1" height="52" fill="#c0c0c0"/>
<rect x="1503" y="566" width="1" height="52" fill="#c0c0c0"/>
<rect x="1511" y="566" width="1" height="61" fill="#c0c0c0"/>
<rect x="1519" y="566" width="1" height="64" fill="#c0c0c0"/>
<rect x="1527" y="566" width="1" height="62" fill="#c0c0c0"/>
<rect x="1535" y="566" width="1" height="59" fill="#c0c0c0"/>
<rect x="1543" y="566" width="1" height="62" fill="#c0c0c0"/>
<rect x="1551" y="566" width="1" height="58" fill="#c0c0c0"/>
<rect x="1559" y="566" width="1" height="52" fill="#c0c0c0"/>
<rect x="1567" y="566" width="1" height="55" fill="#c0c0c0"/>
<rect x="1575" y="566" width="1" height="57" fill="#c0c0c0"/>
<rect x="1583" y="566" width="1" height="59" fill="#c0c0c0"/>
<rect x="1591" y="566" width="1" height="60" fill="#c0c0c0"/>
<rect x="1599" y="566" width="1" height="59" fill="#c0c0c0"/>
<rect x="1607" y="566" width="1" height="55" fill="#c0c0c0"/>
<rect x="1615" y="566" width="1" height="62" fill="#c0c0c0"/>
<rect x="1623" y="566" width="1" height="61" fill="#c0c0c0"/>
<rect x="1631" y="566" width="1" height="62" fill="#c0c0c0"/>
<rect x="1639" y="566" width="1" height="56" fill="#c0c0c0"/>
<rect x="1647" y="566" width="1" height="52" fill="#c0c0c0"/>
<rect x="1655" y="566" width="1" height="52" fill="#c0c0c0"/>
<rect x="1663" y="566" width="1" height="51" fill="#c0c0c0"/>
</g>
<g clip-path="url(#cd)">
<polyline points="7.0,572.0 15.0,572.5 23.0,573.1 31.0,573.2 39.0,573.2 47.0,573.4 55.0,573.3 63.0,573.0 71.0,572.6 79.0,572.1 87.0,571.1 95.0,570.0 103.0,568.7 111.0,567.4 119.0,565.8 127.0,564.1 135.0,562.4 143.0,560.7 151.0,559.0 159.0,557.5 167.0,556.0 175.0,554.6 183.0,553.3 191.0,552.2 199.0,551.4 207.0,550.8 215.0,550.6 223.0,550.7 231.0,551.1 239.0,551.8 247.0,552.7 255.0,553.6 263.0,554.7 271.0,555.8 279.0,556.7 287.0,557.5 295.0,558.1 303.0,558.4 311.0,558.4 319.0,558.3 327.0,557.9 335.0,557.5 343.0,557.0 351.0,556.6 359.0,556.2 367.0,555.9 375.0,555.7 383.0,555.6 391.0,555.5 399.0,555.6 407.0,555.7 415.0,556.0 423.0,556.2 431.0,556.4 439.0,556.6 447.0,556.8 455.0,557.0 463.0,557.1 471.0,557.3 479.0,557.5 487.0,557.5 495.0,557.6 503.0,557.7 511.0,557.7 519.0,557.8 527.0,558.0 535.0,558.2 543.0,558.5 551.0,558.8 559.0,559.2 567.0,559.8 575.0,560.5 583.0,561.2 591.0,561.9 599.0,562.6 607.0,563.2 615.0,563.7 623.0,564.0 631.0,564.0 639.0,563.9 647.0,563.8 655.0,563.6 663.0,563.5 671.0,563.3 679.0,563.3 687.0,563.5 695.0,563.9 703.0,564.5 711.0,565.3 719.0,566.1 727.0,567.2 735.0,568.2 743.0,569.7 751.0,571.4 759.0,573.2 767.0,575.2 775.0,577.5 783.0,579.9 791.0,582.3 799.0,584.7 807.0,586.9 815.0,588.9 823.0,590.8 831.0,593.1 839.0,595.3 847.0,597.4 855.0,599.4 863.0,601.3 871.0,603.0 879.0,604.9 887.0,606.9 895.0,608.9 903.0,610.4 911.0,611.6 919.0,612.7 927.0,613.9 935.0,615.5 943.0,617.8 951.0,620.3 959.0,622.9 967.0,625.6 975.0,628.2 983.0,630.3 991.0,632.1 999.0,633.3 1007.0,633.1 1015.0,632.5 1023.0,630.8 1031.0,628.3 1039.0,624.2 1047.0,619.3 1055.0,614.0 1063.0,608.3 1071.0,602.3 1079.0,597.3 1087.0,592.3 1095.0,587.8 1103.0,583.7 1111.0,580.4 1119.0,578.0 1127.0,575.7 1135.0,573.7 1143.0,572.1 1151.0,570.2 1159.0,568.3 1167.0,566.6 1175.0,565.4 1183.0,564.7 1191.0,564.7 1199.0,565.5 1207.0,567.3 1215.0,569.5 1223.0,572.6 1231.0,575.5 1239.0,579.4 1247.0,583.7 1255.0,588.4 1263.0,593.0 1271.0,597.4 1279.0,601.9 1287.0,606.3 1295.0,609.9 1303.0,613.3 1311.0,615.1 1319.0,616.5 1327.0,616.6 1335.0,616.0 1343.0,615.1 1351.0,613.3 1359.0,611.4 1367.0,609.7 1375.0,608.5 1383.0,607.9 1391.0,607.9 1399.0,609.2 1407.0,611.3 1415.0,614.5 1423.0,618.9 1431.0,624.3 1439.0,630.5 1447.0,635.9 1455.0,640.2 1463.0,643.4 1471.0,644.5 1479.0,643.9 1487.0,642.1 1495.0,639.2 1503.0,635.4 1511.0,631.6 1519.0,628.9 1527.0,626.7 1535.0,624.5 1543.0,624.0 1551.0,624.4 1559.0,624.2 1567.0,624.6 1575.0,625.1 1583.0,624.9 1591.0,624.3 1599.0,624.0 1607.0,623.5 1615.0,623.4 1623.0,623.8 1631.0,624.8 1639.0,624.9 1647.0,624.4 1655.0,623.6 1663.0,622.6" fill="none" stroke="#ff0000" stroke-width="1" stroke-dasharray="3 3"/>
</g>
<text x="11.0" y="555" font-size="9.4" fill="#000" stroke="#000" stroke-width="0.25" textLength="144.0" lengthAdjust="spacingAndGlyphs">MACD(12,26,9) -63.0620 -70.1891</text>
<text x="1686.0" y="553" font-size="9.4" fill="#000" stroke="#000" stroke-width="0.25" textLength="34.0" lengthAdjust="spacingAndGlyphs">28.8016</text>
<rect x="1683" y="566" width="2" height="1" fill="#000"/>
<text x="1686.0" y="570" font-size="9.4" fill="#000" stroke="#000" stroke-width="0.25" textLength="18.0" lengthAdjust="spacingAndGlyphs">0.00</text>
<text x="1686.0" y="663" font-size="9.4" fill="#000" stroke="#000" stroke-width="0.25" textLength="40.0" lengthAdjust="spacingAndGlyphs">-124.4011</text>
<g clip-path="url(#cr)">
<line x1="8" y1="700.5" x2="1682" y2="700.5" stroke="#a8a8a8" stroke-width="1" stroke-dasharray="3 3"/>
<line x1="8" y1="742.5" x2="1682" y2="742.5" stroke="#a8a8a8" stroke-width="1" stroke-dasharray="3 3"/>
</g>
<g clip-path="url(#cr)">
<polyline points="7.0,728.3 15.0,730.0 23.0,731.8 31.0,722.5 39.0,725.4 47.0,728.6 55.0,719.4 63.0,716.3 71.0,713.0 79.0,708.5 87.0,706.5 95.0,711.1 103.0,710.7 111.0,712.5 119.0,703.3 127.0,703.3 135.0,700.9 143.0,700.3 151.0,697.4 159.0,695.9 167.0,700.2 175.0,705.3 183.0,703.4 191.0,702.1 199.0,706.4 207.0,706.8 215.0,712.1 223.0,711.9 231.0,715.1 239.0,715.3 247.0,724.4 255.0,715.9 263.0,717.3 271.0,716.4 279.0,711.2 287.0,709.2 295.0,706.5 303.0,702.4 311.0,705.6 319.0,707.2 327.0,702.1 335.0,711.0 343.0,709.2 351.0,708.3 359.0,707.4 367.0,705.5 375.0,706.9 383.0,704.2 391.0,710.8 399.0,708.8 407.0,715.3 415.0,718.2 423.0,709.4 431.0,706.6 439.0,712.1 447.0,707.8 455.0,708.4 463.0,710.8 471.0,713.9 479.0,716.9 487.0,711.2 495.0,709.1 503.0,709.1 511.0,708.0 519.0,708.0 527.0,712.0 535.0,711.1 543.0,721.1 551.0,724.1 559.0,726.8 567.0,726.0 575.0,723.5 583.0,720.2 591.0,716.2 599.0,716.6 607.0,716.3 615.0,718.9 623.0,710.4 631.0,707.5 639.0,709.9 647.0,721.8 655.0,712.9 663.0,721.6 671.0,715.7 679.0,724.7 687.0,731.7 695.0,728.1 703.0,732.5 711.0,727.6 719.0,734.3 727.0,735.8 735.0,731.9 743.0,743.3 751.0,744.7 759.0,746.5 767.0,750.4 775.0,751.8 783.0,751.2 791.0,752.8 799.0,745.0 807.0,742.6 815.0,747.1 823.0,751.9 831.0,757.3 839.0,752.6 847.0,752.7 855.0,753.0 863.0,754.6 871.0,739.1 879.0,746.7 887.0,748.0 895.0,751.1 903.0,744.7 911.0,746.0 919.0,748.4 927.0,750.3 935.0,755.0 943.0,756.0 951.0,757.0 959.0,757.2 967.0,758.7 975.0,752.9 983.0,739.0 991.0,744.0 999.0,733.8 1007.0,728.3 1015.0,737.9 1023.0,727.4 1031.0,725.7 1039.0,716.6 1047.0,717.7 1055.0,718.2 1063.0,717.7 1071.0,714.8 1079.0,725.7 1087.0,727.3 1095.0,722.2 1103.0,721.1 1111.0,719.5 1119.0,721.5 1127.0,715.7 1135.0,714.1 1143.0,717.5 1151.0,716.9 1159.0,721.6 1167.0,721.4 1175.0,726.4 1183.0,724.9 1191.0,731.1 1199.0,730.0 1207.0,734.8 1215.0,730.3 1223.0,736.7 1231.0,727.7 1239.0,739.2 1247.0,739.5 1255.0,739.2 1263.0,739.2 1271.0,738.4 1279.0,744.7 1287.0,735.7 1295.0,732.8 1303.0,733.0 1311.0,727.8 1319.0,736.7 1327.0,722.8 1335.0,727.0 1343.0,728.3 1351.0,728.2 1359.0,729.6 1367.0,731.2 1375.0,734.0 1383.0,734.5 1391.0,742.3 1399.0,740.5 1407.0,742.2 1415.0,746.4 1423.0,749.1 1431.0,750.2 1439.0,751.9 1447.0,731.5 1455.0,729.3 1463.0,733.8 1471.0,720.0 1479.0,720.5 1487.0,728.4 1495.0,728.3 1503.0,730.3 1511.0,737.5 1519.0,733.2 1527.0,729.0 1535.0,728.2 1543.0,733.3 1551.0,726.6 1559.0,724.7 1567.0,731.5 1575.0,731.8 1583.0,732.4 1591.0,732.1 1599.0,731.9 1607.0,727.4 1615.0,736.8 1623.0,730.6 1631.0,731.8 1639.0,725.8 1647.0,726.5 1655.0,729.8 1663.0,729.6" fill="none" stroke="#1e90ff" stroke-width="1"/>
</g>
<text x="11.0" y="681" font-size="9.4" fill="#000" stroke="#000" stroke-width="0.25" textLength="68.0" lengthAdjust="spacingAndGlyphs">RSI(14) 41.6828</text>
<rect x="1683" y="700" width="2" height="1" fill="#000"/>
<rect x="1683" y="742" width="2" height="1" fill="#000"/>
<text x="1687.0" y="679" font-size="9.4" fill="#000" stroke="#000" stroke-width="0.25" textLength="16.0" lengthAdjust="spacingAndGlyphs">100</text>
<text x="1687.0" y="704" font-size="9.4" fill="#000" stroke="#000" stroke-width="0.25" textLength="11.0" lengthAdjust="spacingAndGlyphs">70</text>
<text x="1687.0" y="746" font-size="9.4" fill="#000" stroke="#000" stroke-width="0.25" textLength="11.0" lengthAdjust="spacingAndGlyphs">30</text>
<text x="1687.0" y="770" font-size="9.4" fill="#000" stroke="#000" stroke-width="0.25" textLength="6.0" lengthAdjust="spacingAndGlyphs">0</text>
<rect x="7" y="774" width="1" height="3" fill="#000"/>
<text x="6.0" y="786.5" font-size="9.4" fill="#000" stroke="#000" stroke-width="0.25" textLength="47.8" lengthAdjust="spacingAndGlyphs">3 Feb 2020</text>
<rect x="71" y="774" width="1" height="3" fill="#000"/>
<text x="70.0" y="786.5" font-size="9.4" fill="#000" stroke="#000" stroke-width="0.25" textLength="50.4" lengthAdjust="spacingAndGlyphs">4 Feb 08:00</text>
<rect x="135" y="774" width="1" height="3" fill="#000"/>
<text x="134.0" y="786.5" font-size="9.4" fill="#000" stroke="#000" stroke-width="0.25" textLength="50.4" lengthAdjust="spacingAndGlyphs">5 Feb 16:00</text>
<rect x="199" y="774" width="1" height="3" fill="#000"/>
<text x="198.0" y="786.5" font-size="9.4" fill="#000" stroke="#000" stroke-width="0.25" textLength="50.4" lengthAdjust="spacingAndGlyphs">7 Feb 00:00</text>
<rect x="263" y="774" width="1" height="3" fill="#000"/>
<text x="262.0" y="786.5" font-size="9.4" fill="#000" stroke="#000" stroke-width="0.25" textLength="55.7" lengthAdjust="spacingAndGlyphs">10 Feb 04:00</text>
<rect x="327" y="774" width="1" height="3" fill="#000"/>
<text x="326.0" y="786.5" font-size="9.4" fill="#000" stroke="#000" stroke-width="0.25" textLength="55.0" lengthAdjust="spacingAndGlyphs">11 Feb 12:00</text>
<rect x="391" y="774" width="1" height="3" fill="#000"/>
<text x="390.0" y="786.5" font-size="9.4" fill="#000" stroke="#000" stroke-width="0.25" textLength="55.7" lengthAdjust="spacingAndGlyphs">12 Feb 20:00</text>
<rect x="455" y="774" width="1" height="3" fill="#000"/>
<text x="454.0" y="786.5" font-size="9.4" fill="#000" stroke="#000" stroke-width="0.25" textLength="55.7" lengthAdjust="spacingAndGlyphs">14 Feb 04:00</text>
<rect x="519" y="774" width="1" height="3" fill="#000"/>
<text x="518.0" y="786.5" font-size="9.4" fill="#000" stroke="#000" stroke-width="0.25" textLength="55.7" lengthAdjust="spacingAndGlyphs">17 Feb 08:00</text>
<rect x="583" y="774" width="1" height="3" fill="#000"/>
<text x="582.0" y="786.5" font-size="9.4" fill="#000" stroke="#000" stroke-width="0.25" textLength="55.7" lengthAdjust="spacingAndGlyphs">18 Feb 16:00</text>
<rect x="647" y="774" width="1" height="3" fill="#000"/>
<text x="646.0" y="786.5" font-size="9.4" fill="#000" stroke="#000" stroke-width="0.25" textLength="55.7" lengthAdjust="spacingAndGlyphs">20 Feb 00:00</text>
<rect x="711" y="774" width="1" height="3" fill="#000"/>
<text x="710.0" y="786.5" font-size="9.4" fill="#000" stroke="#000" stroke-width="0.25" textLength="55.7" lengthAdjust="spacingAndGlyphs">21 Feb 08:00</text>
<rect x="775" y="774" width="1" height="3" fill="#000"/>
<text x="774.0" y="786.5" font-size="9.4" fill="#000" stroke="#000" stroke-width="0.25" textLength="55.7" lengthAdjust="spacingAndGlyphs">24 Feb 12:00</text>
<rect x="839" y="774" width="1" height="3" fill="#000"/>
<text x="838.0" y="786.5" font-size="9.4" fill="#000" stroke="#000" stroke-width="0.25" textLength="55.7" lengthAdjust="spacingAndGlyphs">25 Feb 20:00</text>
<rect x="903" y="774" width="1" height="3" fill="#000"/>
<text x="902.0" y="786.5" font-size="9.4" fill="#000" stroke="#000" stroke-width="0.25" textLength="55.7" lengthAdjust="spacingAndGlyphs">27 Feb 04:00</text>
<rect x="967" y="774" width="1" height="3" fill="#000"/>
<text x="966.0" y="786.5" font-size="9.4" fill="#000" stroke="#000" stroke-width="0.25" textLength="55.7" lengthAdjust="spacingAndGlyphs">28 Feb 12:00</text>
<rect x="1031" y="774" width="1" height="3" fill="#000"/>
<text x="1030.0" y="786.5" font-size="9.4" fill="#000" stroke="#000" stroke-width="0.25" textLength="50.4" lengthAdjust="spacingAndGlyphs">2 Mar 16:00</text>
<rect x="1095" y="774" width="1" height="3" fill="#000"/>
<text x="1094.0" y="786.5" font-size="9.4" fill="#000" stroke="#000" stroke-width="0.25" textLength="50.4" lengthAdjust="spacingAndGlyphs">4 Mar 00:00</text>
<rect x="1159" y="774" width="1" height="3" fill="#000"/>
<text x="1158.0" y="786.5" font-size="9.4" fill="#000" stroke="#000" stroke-width="0.25" textLength="50.4" lengthAdjust="spacingAndGlyphs">5 Mar 08:00</text>
<rect x="1223" y="774" width="1" height="3" fill="#000"/>
<text x="1222.0" y="786.5" font-size="9.4" fill="#000" stroke="#000" stroke-width="0.25" textLength="50.4" lengthAdjust="spacingAndGlyphs">6 Mar 16:00</text>
<rect x="1287" y="774" width="1" height="3" fill="#000"/>
<text x="1286.0" y="786.5" font-size="9.4" fill="#000" stroke="#000" stroke-width="0.25" textLength="50.4" lengthAdjust="spacingAndGlyphs">9 Mar 20:00</text>
<rect x="1351" y="774" width="1" height="3" fill="#000"/>
<text x="1350.0" y="786.5" font-size="9.4" fill="#000" stroke="#000" stroke-width="0.25" textLength="55.0" lengthAdjust="spacingAndGlyphs">11 Mar 04:00</text>
<rect x="1415" y="774" width="1" height="3" fill="#000"/>
<text x="1414.0" y="786.5" font-size="9.4" fill="#000" stroke="#000" stroke-width="0.25" textLength="55.7" lengthAdjust="spacingAndGlyphs">12 Mar 12:00</text>
<rect x="1479" y="774" width="1" height="3" fill="#000"/>
<text x="1478.0" y="786.5" font-size="9.4" fill="#000" stroke="#000" stroke-width="0.25" textLength="55.7" lengthAdjust="spacingAndGlyphs">13 Mar 20:00</text>
<rect x="1543" y="774" width="1" height="3" fill="#000"/>
<text x="1542.0" y="786.5" font-size="9.4" fill="#000" stroke="#000" stroke-width="0.25" textLength="55.7" lengthAdjust="spacingAndGlyphs">17 Mar 08:00</text>
<rect x="1607" y="774" width="1" height="3" fill="#000"/>
<text x="1606.0" y="786.5" font-size="9.4" fill="#000" stroke="#000" stroke-width="0.25" textLength="55.7" lengthAdjust="spacingAndGlyphs">18 Mar 20:00</text>
</svg>
</body></html>
